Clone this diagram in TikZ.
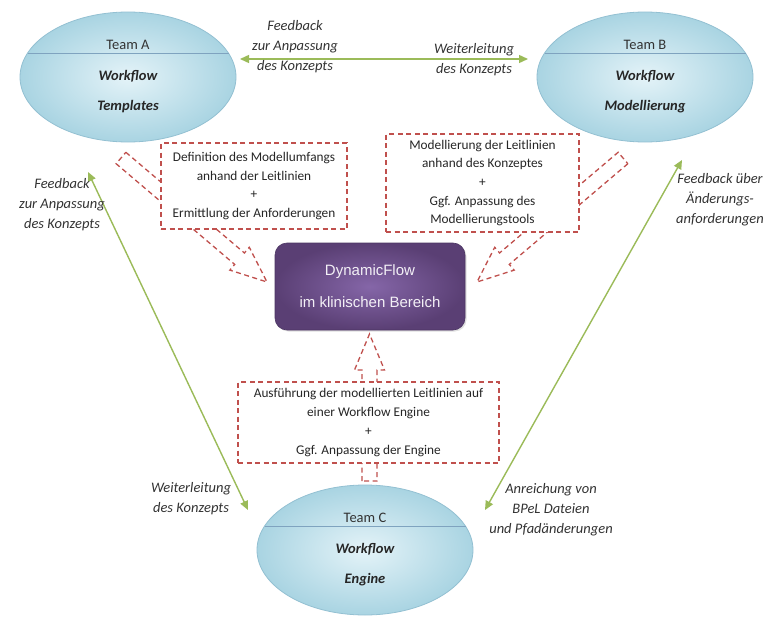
\documentclass[tikz,border=0pt]{standalone}
\usepackage{fontspec}
\setmainfont{Carlito}
\newfontfamily\arialfont{Liberation Sans}
\usetikzlibrary{calc,shapes.geometric,arrows.meta,shadows}

\definecolor{dashred}{HTML}{C0504D}
\definecolor{flowgreen}{HTML}{9BBB59}
\definecolor{ellin}{HTML}{E4F3F8}
\definecolor{ellout}{HTML}{A9D4E2}
\definecolor{ellborder}{HTML}{93C0D2}
\definecolor{elldivider}{HTML}{7FA3BF}
\definecolor{purin}{HTML}{8566A8}
\definecolor{purout}{HTML}{5A3F74}
\definecolor{labelgray}{HTML}{333333}

\tikzset{
  dashline/.style={draw=dashred, line width=1.3pt, dash pattern=on 5pt off 3.5pt},
  taskbox/.style={dashline, fill=white, align=center, inner sep=0pt,
    font=\fontsize{13.3}{18.7}\selectfont, text=black!85},
  team/.style={ellipse, minimum width=216pt, minimum height=130pt, inner sep=0pt,
    draw=ellborder, line width=0.8pt, inner color=ellin, outer color=ellout},
  teamname/.style={font=\fontsize{14.5}{17}\selectfont, text=black!80},
  teamtitle/.style={font=\fontsize{14.5}{17}\selectfont\bfseries\itshape, text=black!85},
  flowlabel/.style={font=\fontsize{14.5}{20}\selectfont\itshape, text=labelgray, align=center},
  greenline/.style={draw=flowgreen, line width=1.4pt},
  hub/.style={rounded corners=12pt, minimum width=190pt, minimum height=87pt,
    inner color=purin, outer color=purout, draw=purout!85!black, line width=0.6pt,
    drop shadow={opacity=0.25, shadow xshift=1.5pt, shadow yshift=-1.5pt},
    align=center, text=white!90!purin,
    font=\arialfont\fontsize{15}{32}\selectfont},
}

% hollow dashed block arrow from tail #1 to tip #2
\newcommand\dashedblockarrow[2]{%
  \path ($(#2)!36pt!(#1)$) coordinate (#1-head);
  \draw[dashline, line join=miter]
    ($(#1)!7.5pt!90:(#2)$) -- ($(#1-head)!7.5pt!90:(#2)$) --
    ($(#1-head)!15pt!90:(#2)$) -- (#2) --
    ($(#1-head)!15pt!-90:(#2)$) -- ($(#1-head)!7.5pt!-90:(#2)$) --
    ($(#1)!7.5pt!-90:(#2)$) -- cycle;
}

\begin{document}
\begin{tikzpicture}[x=1pt, y=-1pt]
  \fill[white] (0,0) rectangle (766,618);
  \useasboundingbox (0,0) rectangle (766,618);

  % block arrows towards the hub (drawn first, boxes cover them)
  \coordinate (ta) at (121,158);   \coordinate (pa) at (267,282);
  \coordinate (tb) at (623,158);   \coordinate (pb) at (477,282);
  \coordinate (tc) at (369.5,481); \coordinate (pc) at (369.5,334);
  \dashedblockarrow{ta}{pa}
  \dashedblockarrow{tb}{pb}
  \dashedblockarrow{tc}{pc}

  % task boxes
  \node[taskbox, minimum width=186pt, minimum height=86pt] (box1) at (254,186)
    {Definition des Modellumfangs\\anhand der Leitlinien\\+\\Ermittlung der Anforderungen};
  \node[taskbox, minimum width=193pt, minimum height=98pt] (box2) at (482.5,183)
    {Modellierung der Leitlinien\\anhand des Konzeptes\\+\\Ggf. Anpassung des\\Modellierungstools};
  \node[taskbox, minimum width=261pt, minimum height=81pt] (box3) at (368.5,422.5)
    {Ausführung der modellierten Leitlinien auf\\einer Workflow Engine\\+\\Ggf. Anpassung der Engine};

  % central hub
  \node[hub] (hub) at (370,286.5) {DynamicFlow\\im klinischen Bereich};

  % team ellipses
  \foreach \nm/\pos/\team/\second in {A/{(128,77)}/Team A/Templates,
                                      B/{(645,77)}/Team B/Modellierung,
                                      C/{(365,550)}/Team C/Engine} {
    \node[team] (\nm) at \pos {};
    \draw[elldivider, line width=0.8pt] ($(\nm)+(-100.5,-24)$) -- ($(\nm)+(100.5,-24)$);
    \node[teamname] (\nm-name) at ($(\nm)+(0,-32)$) {\team};
    \node[teamtitle] (\nm-wf) at ($(\nm)+(0,-0.5)$) {Workflow};
    \node[teamtitle] (\nm-sub) at ($(\nm)+(0,29.5)$) {\second};
  }

  % green feedback arrows
  \coordinate (h1) at (240,59);  \coordinate (h2) at (528,59);
  \coordinate (l1) at (88,172);  \coordinate (l2) at (248,510);
  \coordinate (r1) at (682,160); \coordinate (r2) at (485,510);
  \draw[greenline, {Triangle[length=9pt,width=8pt]}-{Triangle[length=9pt,width=8pt]}] (h1) -- (h2);
  \draw[greenline, {Triangle[length=9pt,width=8pt]}-{Triangle[length=9pt,width=8pt]}] (l1) -- (l2);
  \draw[greenline, {Triangle[length=9pt,width=8pt]}-{Triangle[length=9pt,width=8pt]}] (r1) -- (r2);

  % arrow labels
  \node[flowlabel] (fbtop) at (295,47) {Feedback\\zur Anpassung\\des Konzepts};
  \node[flowlabel] (wltop) at (474,59.5) {Weiterleitung\\des Konzepts};
  \node[flowlabel] (fbleft) at (62,205) {Feedback\\zur Anpassung\\des Konzepts};
  \node[flowlabel] (fbright) at (720,200) {Feedback über\\Änderungs-\\anforderungen};
  \node[flowlabel] (wlleft) at (191,499) {Weiterleitung\\des Konzepts};
  \node[flowlabel] (enrich) at (551,510) {Anreichung von\\BPeL Dateien\\und Pfadänderungen};
\end{tikzpicture}
\end{document}
